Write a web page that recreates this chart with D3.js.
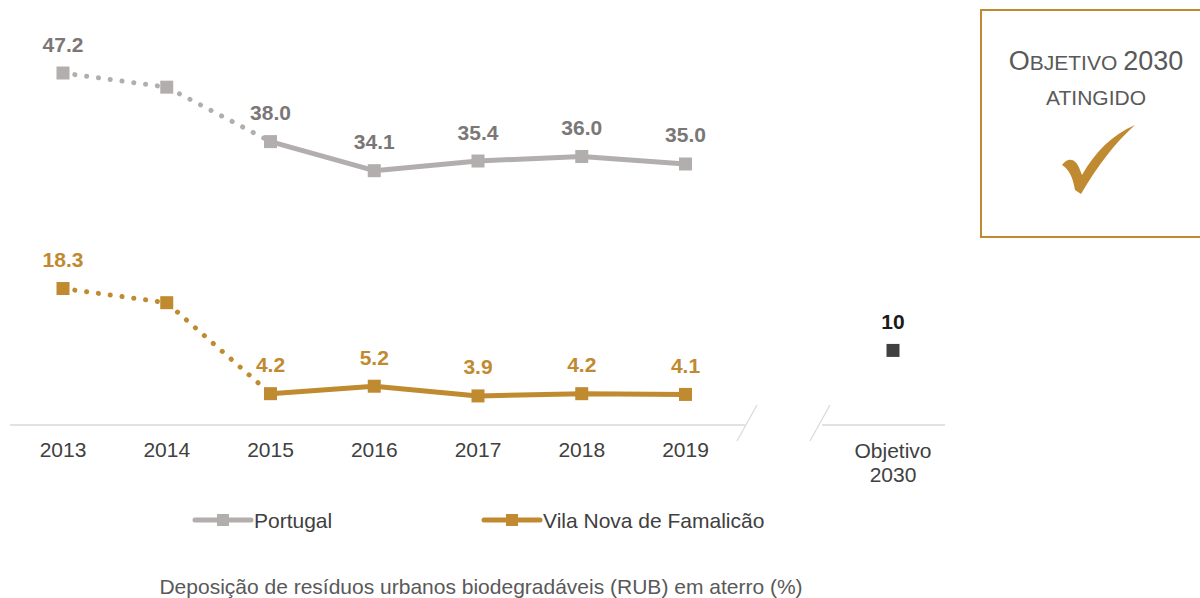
<!DOCTYPE html>
<html>
<head>
<meta charset="utf-8">
<script src="https://cdn.jsdelivr.net/npm/d3@7"></script>
<style>
  body { margin: 0; background: #fff; }
  svg { font-family: "Liberation Sans", Arial, sans-serif; display: block; }
</style>
</head>
<body>
<div id="chart"></div>
<script>
var years = ["2013", "2014", "2015", "2016", "2017", "2018", "2019"];
var slots = years.concat(["gap", "Objetivo 2030"]);
var portugal = [47.2, 45.3, 38.0, 34.1, 35.4, 36.0, 35.0];
var famalicao = [18.3, 16.4, 4.2, 5.2, 3.9, 4.2, 4.1];
var showLabel = [true, false, true, true, true, true, true];
var objetivo = 10;
var seriesNames = ["Portugal", "Vila Nova de Famalicão"];

var width = 1200, height = 598;
var grey = "#b3aeae", greyText = "#7b7777", gold = "#c08a30";

var svg = d3.select("#chart").append("svg")
  .attr("width", width)
  .attr("height", height);

var x = d3.scalePoint().domain(slots).range([63, 893]);
var y = d3.scaleLinear().domain([0, 47.2]).range([425, 73]);

// axis line with break
var axisY = y(0);
svg.append("line").attr("x1", 10).attr("x2", 745).attr("y1", axisY).attr("y2", axisY)
  .attr("stroke", "#d9d9d9").attr("stroke-width", 1.5);
svg.append("line").attr("x1", 822).attr("x2", 945).attr("y1", axisY).attr("y2", axisY)
  .attr("stroke", "#d9d9d9").attr("stroke-width", 1.5);
[748, 821].forEach(function(bx) {
  svg.append("line")
    .attr("x1", bx + 9).attr("y1", axisY - 20)
    .attr("x2", bx - 11).attr("y2", axisY + 16)
    .attr("stroke", "#d9d9d9").attr("stroke-width", 1.2);
});

// tick labels
svg.selectAll(".tick-label")
  .data(years)
  .enter()
  .append("text")
  .attr("class", "tick-label")
  .attr("x", function(d) { return x(d); })
  .attr("y", 457)
  .attr("text-anchor", "middle")
  .attr("font-size", 21)
  .attr("fill", "#404040")
  .text(function(d) { return d; });

var objLabel = svg.append("text")
  .attr("x", x("Objetivo 2030"))
  .attr("y", 458)
  .attr("text-anchor", "middle")
  .attr("font-size", 21)
  .attr("fill", "#404040");
objLabel.append("tspan").attr("x", x("Objetivo 2030")).attr("dy", 0).text("Objetivo");
objLabel.append("tspan").attr("x", x("Objetivo 2030")).attr("dy", 24).text("2030");

function drawSeries(values, color, labelColor) {
  var pts = values.map(function(v, i) { return { key: years[i], v: v, i: i }; });

  var line = d3.line()
    .x(function(d) { return x(d.key); })
    .y(function(d) { return y(d.v); });

  // 2013-2015 dotted
  svg.append("path")
    .datum(pts.slice(0, 3))
    .attr("d", line)
    .attr("fill", "none")
    .attr("stroke", color)
    .attr("stroke-width", 5)
    .attr("stroke-linecap", "round")
    .attr("stroke-dasharray", "0.1 11.8");

  svg.append("path")
    .datum(pts.slice(2))
    .attr("d", line)
    .attr("fill", "none")
    .attr("stroke", color)
    .attr("stroke-width", 5)
    .attr("stroke-linejoin", "round");

  svg.selectAll(null)
    .data(pts)
    .enter()
    .append("rect")
    .attr("x", function(d) { return x(d.key) - 6.5; })
    .attr("y", function(d) { return y(d.v) - 6.5; })
    .attr("width", 13)
    .attr("height", 13)
    .attr("fill", color);

  svg.selectAll(null)
    .data(pts.filter(function(d) { return showLabel[d.i]; }))
    .enter()
    .append("text")
    .attr("x", function(d) { return x(d.key); })
    .attr("y", function(d) { return y(d.v) - 21.5; })
    .attr("text-anchor", "middle")
    .attr("font-size", 21)
    .attr("font-weight", "bold")
    .attr("fill", labelColor)
    .text(function(d) { return d.v.toFixed(1); });
}

drawSeries(portugal, grey, greyText);
drawSeries(famalicao, gold, gold);

// objetivo point
svg.append("rect")
  .attr("x", x("Objetivo 2030") - 6.5)
  .attr("y", y(objetivo) - 6.5)
  .attr("width", 13)
  .attr("height", 13)
  .attr("fill", "#404040");
svg.append("text")
  .attr("x", x("Objetivo 2030"))
  .attr("y", y(objetivo) - 21.5)
  .attr("text-anchor", "middle")
  .attr("font-size", 21)
  .attr("font-weight", "bold")
  .attr("fill", "#1a1a1a")
  .text(objetivo);

// legend
var legend = [
  { name: seriesNames[0], color: grey, x: 195 },
  { name: seriesNames[1], color: gold, x: 484 }
];
legend.forEach(function(l) {
  svg.append("line")
    .attr("x1", l.x).attr("x2", l.x + 56)
    .attr("y1", 520).attr("y2", 520)
    .attr("stroke", l.color).attr("stroke-width", 5)
    .attr("stroke-linecap", "round");
  svg.append("rect")
    .attr("x", l.x + 22).attr("y", 514)
    .attr("width", 12).attr("height", 12)
    .attr("fill", l.color);
  svg.append("text")
    .attr("x", l.x + 59).attr("y", 528)
    .attr("font-size", 21)
    .attr("fill", "#404040")
    .text(l.name);
});

// footer title
svg.append("text")
  .attr("x", 481).attr("y", 594)
  .attr("text-anchor", "middle")
  .attr("font-size", 21)
  .attr("fill", "#595959")
  .text("Deposição de resíduos urbanos biodegradáveis (RUB) em aterro (%)");

// objective box
svg.append("rect")
  .attr("x", 981).attr("y", 10)
  .attr("width", 230).attr("height", 227)
  .attr("fill", "none")
  .attr("stroke", gold)
  .attr("stroke-width", 2);

var boxTitle = svg.append("text")
  .attr("x", 1096).attr("y", 70)
  .attr("text-anchor", "middle")
  .attr("fill", "#595959");
boxTitle.append("tspan").attr("font-size", 27).text("O");
boxTitle.append("tspan").attr("font-size", 21).text("BJETIVO ");
boxTitle.append("tspan").attr("font-size", 27).text("2030");

svg.append("text")
  .attr("x", 1096).attr("y", 105)
  .attr("text-anchor", "middle")
  .attr("font-size", 21)
  .attr("fill", "#595959")
  .text("ATINGIDO");

// check mark
svg.append("path")
  .attr("d", "M1062,165 C1068,157 1076,158 1080,170 L1082,175 C1096,151 1112,135 1135,125 C1115,143 1098,165 1081,194 L1075,190 C1073,178 1069,169 1062,165 Z")
  .attr("fill", gold);
</script>
</body>
</html>
